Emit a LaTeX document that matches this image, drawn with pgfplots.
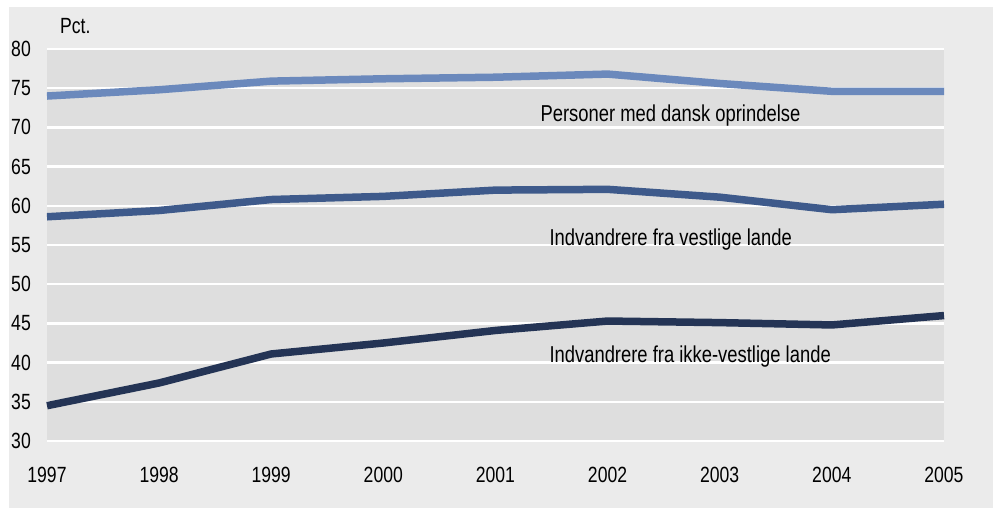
\documentclass[border=0pt]{standalone}
\usepackage{fontspec}
\setmainfont{Liberation Sans}[FakeStretch=0.80]
\usepackage{pgfplots}
\pgfplotsset{compat=1.18}
\definecolor{outerbg}{HTML}{EBEBEB}
\definecolor{plotbg}{HTML}{DEDEDE}
\definecolor{cLight}{HTML}{6B89BC}
\definecolor{cMid}{HTML}{3E5A8B}
\definecolor{cDark}{HTML}{243455}
\newcommand{\lblfont}{\fontsize{22bp}{24bp}\selectfont}
\newcommand{\serfont}{\fontsize{23bp}{25bp}\selectfont}
\begin{document}
\begin{tikzpicture}[x=1bp,y=1bp]
\useasboundingbox (0,0) rectangle (997,510);
\fill[white] (0,0) rectangle (997,510);
\fill[outerbg] (9,2) rectangle (993,503);
\node[anchor=west,font=\lblfont,inner sep=0pt] at (60,484) {Pct.};
\begin{axis}[
  at={(47bp,69bp)}, anchor=south west,
  scale only axis, width=897bp, height=392bp,
  xmin=1997, xmax=2005, ymin=30, ymax=80,
  xtick={1997,...,2005}, ytick={30,35,...,80},
  xticklabel style={/pgf/number format/1000 sep={}},
  /pgf/number format/assume math mode=true,
  ticklabel style={font=\lblfont, inner sep=0pt},
  yticklabel style={anchor=east, xshift=-16bp},
  xticklabel style={anchor=center, yshift=-34bp},
  major tick length=0pt,
  axis line style={draw=none},
  axis background/.style={fill=plotbg},
  ymajorgrids, major grid style={white, line width=2.5bp},
  clip=false,
]
\addplot[cLight, line width=7.5bp] coordinates {
(1997,74.0) (1998,74.8) (1999,75.9) (2000,76.2) (2001,76.4) (2002,76.8) (2003,75.6) (2004,74.6) (2005,74.6)};
\addplot[cMid, line width=7.5bp] coordinates {
(1997,58.6) (1998,59.4) (1999,60.8) (2000,61.2) (2001,62.0) (2002,62.1) (2003,61.1) (2004,59.5) (2005,60.2)};
\addplot[cDark, line width=7.5bp] coordinates {
(1997,34.5) (1998,37.4) (1999,41.1) (2000,42.5) (2001,44.1) (2002,45.3) (2003,45.1) (2004,44.8) (2005,46.0)};
\node[anchor=west,font=\serfont,inner sep=0pt] at (axis cs:2001.40,71.5) {Personer med dansk oprindelse};
\node[anchor=west,font=\serfont,inner sep=0pt] at (axis cs:2001.48,55.7) {Indvandrere fra vestlige lande};
\node[anchor=west,font=\serfont,inner sep=0pt] at (axis cs:2001.48,40.8) {Indvandrere fra ikke-vestlige lande};
\end{axis}
\end{tikzpicture}
\end{document}
